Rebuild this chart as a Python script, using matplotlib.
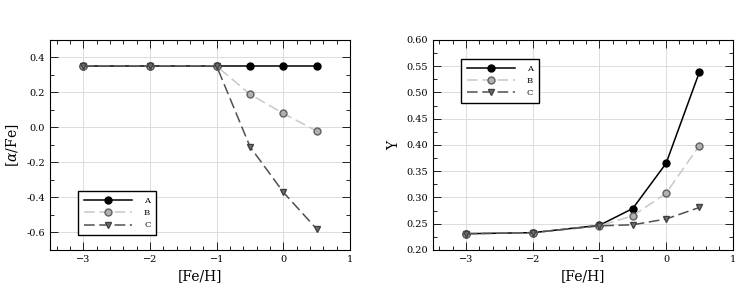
import matplotlib
matplotlib.use('Agg')
import matplotlib.pyplot as plt
from matplotlib.ticker import MultipleLocator

feh = [-3, -2, -1, -0.5, 0, 0.5]

alpha_a = [0.35, 0.35, 0.35, 0.35, 0.35, 0.35]
alpha_b = [0.35, 0.35, 0.35, 0.19, 0.08, -0.02]
alpha_c = [0.35, 0.35, 0.35, -0.11, -0.37, -0.58]

y_a = [0.231, 0.233, 0.247, 0.279, 0.365, 0.539]
y_b = [0.231, 0.233, 0.246, 0.265, 0.308, 0.399]
y_c = [0.231, 0.233, 0.246, 0.248, 0.259, 0.281]

labels = ['A', 'B', 'C']

plt.rcParams['font.family'] = ['DejaVu Serif']
plt.rcParams['mathtext.fontset'] = 'dejavuserif'

styles = [
    dict(color='black', linestyle='-', marker='o', markerfacecolor='black',
         markeredgecolor='black', linewidth=1.1, markersize=5),
    dict(color='#c8c8c8', linestyle=(0, (7, 3)), marker='o', markerfacecolor='#b0b0b0',
         markeredgecolor='#606060', linewidth=1.1, markersize=5),
    dict(color='#505050', linestyle=(0, (7, 3)), marker='v', markerfacecolor='#707070',
         markeredgecolor='#404040', linewidth=1.1, markersize=5),
]


def style_axes(ax):
    ax.set_xlim(-3.5, 1)
    ax.xaxis.set_major_locator(MultipleLocator(1))
    ax.xaxis.set_minor_locator(MultipleLocator(0.2))
    ax.tick_params(which='both', direction='in', top=True, right=True, labelsize=7)
    ax.tick_params(which='major', length=6, width=0.6)
    ax.tick_params(which='minor', length=3, width=0.6)
    ax.grid(True, which='major', color='#dcdcdc', linewidth=0.7)
    ax.set_axisbelow(True)
    for s in ax.spines.values():
        s.set_linewidth(0.8)
    ax.set_xlabel('[Fe/H]', fontsize=10)


fig = plt.figure(figsize=(7.5, 3), dpi=100)
ax1 = fig.add_axes([0.0667, 0.1667, 0.4, 0.7])
ax2 = fig.add_axes([0.577, 0.1667, 0.4, 0.7])

for vals, lab, st in zip([alpha_a, alpha_b, alpha_c], labels, styles):
    ax1.plot(feh, vals, label=lab, **st)
style_axes(ax1)
ax1.set_ylim(-0.7, 0.5)
ax1.yaxis.set_major_locator(MultipleLocator(0.2))
ax1.yaxis.set_minor_locator(MultipleLocator(0.1))
ax1.yaxis.set_major_formatter(plt.FuncFormatter(lambda v, p: f'{v:.1f}'))
ax1.set_ylabel(r'[$\alpha$/Fe]', fontsize=10)
ax1.legend(loc='lower left', bbox_to_anchor=(0.08, 0.05), fontsize=6, handlelength=5.8,
           fancybox=False, edgecolor='black', framealpha=1, borderpad=0.7,
           handletextpad=1.4, labelspacing=0.5)

for vals, lab, st in zip([y_a, y_b, y_c], labels, styles):
    ax2.plot(feh, vals, label=lab, **st)
style_axes(ax2)
ax2.set_ylim(0.2, 0.6)
ax2.yaxis.set_major_locator(MultipleLocator(0.05))
ax2.yaxis.set_minor_locator(MultipleLocator(0.025))
ax2.yaxis.set_major_formatter(plt.FuncFormatter(lambda v, p: f'{v:.2f}'))
ax2.set_ylabel('Y', fontsize=10)
ax2.legend(loc='upper left', bbox_to_anchor=(0.08, 0.93), fontsize=6, handlelength=5.8,
           fancybox=False, edgecolor='black', framealpha=1, borderpad=0.7,
           handletextpad=1.4, labelspacing=0.5)

fig.savefig('out.png', dpi=100)
